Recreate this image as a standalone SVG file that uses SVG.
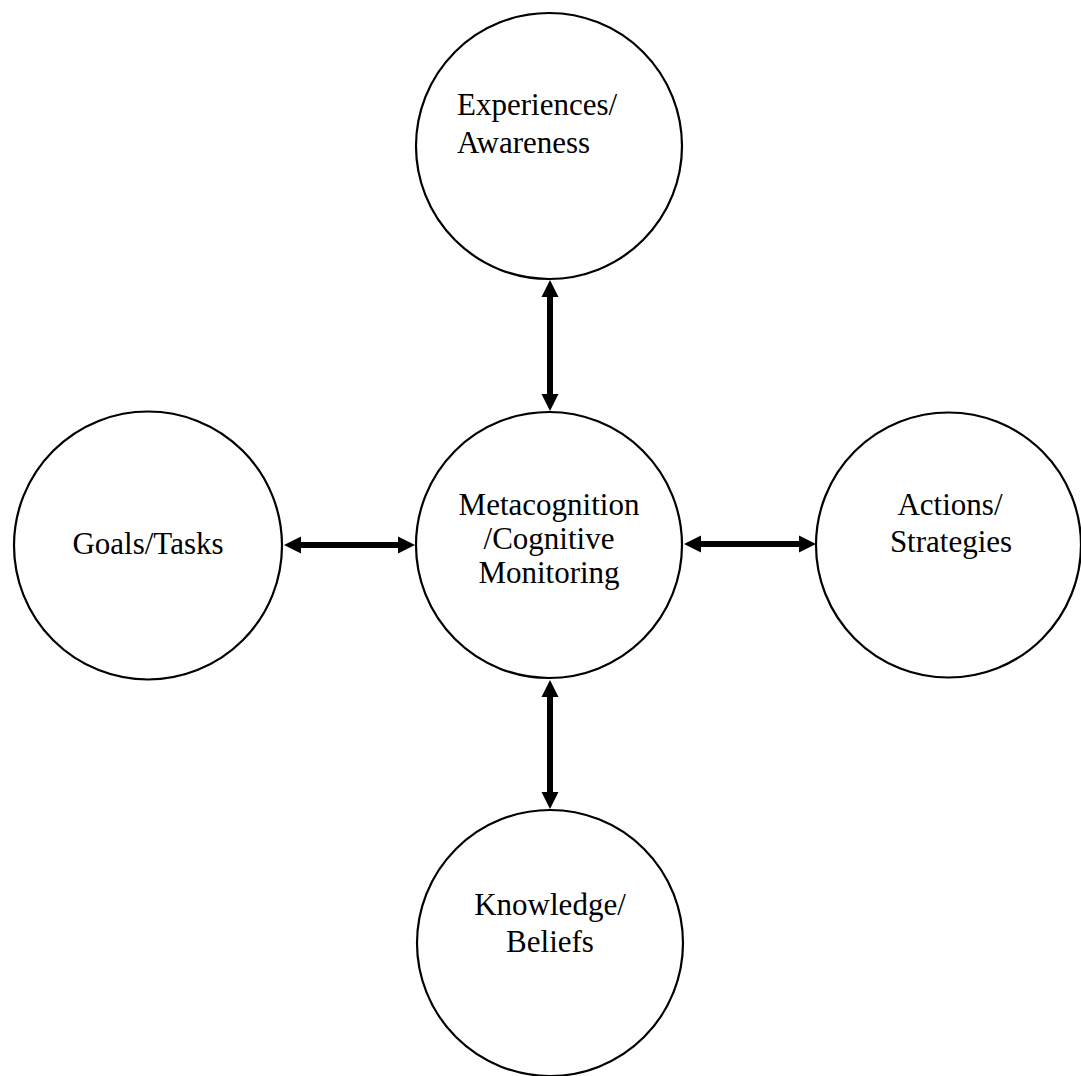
<svg xmlns="http://www.w3.org/2000/svg" width="1081" height="1076" viewBox="0 0 1081 1076">
<style>
.node circle{fill:#fff;stroke:#000;stroke-width:2.2}
.node text{font-family:"Liberation Serif","Times New Roman",serif;font-size:31px;fill:#000}
.c{text-anchor:middle}
.conn line{stroke:#000;stroke-width:6;marker-start:url(#ah);marker-end:url(#ah)}
</style>
<defs>
<marker id="ah" markerUnits="userSpaceOnUse" markerWidth="18" markerHeight="18" viewBox="0 0 18 18" refX="1" refY="9" orient="auto-start-reverse">
<path d="M0,0.5 L17,9 L0,17.5 z" fill="#000"/>
</marker>
</defs>
<rect width="1081" height="1076" fill="#fff"/>
<g id="experiences" class="node">
<circle cx="549" cy="146" r="133"/>
<text x="457" y="115">Experiences/</text>
<text x="457" y="153">Awareness</text>
</g>
<g id="metacognition" class="node">
<circle cx="549" cy="545" r="133"/>
<text class="c" x="549" y="515">Metacognition</text>
<text class="c" x="549" y="549">/Cognitive</text>
<text class="c" x="549" y="583">Monitoring</text>
</g>
<g id="goals" class="node">
<circle cx="148" cy="545.5" r="134"/>
<text class="c" x="148" y="554">Goals/Tasks</text>
</g>
<g id="actions" class="node">
<circle cx="948.5" cy="545" r="132.5"/>
<text class="c" x="950" y="515">Actions/</text>
<text class="c" x="951" y="552">Strategies</text>
</g>
<g id="knowledge" class="node">
<circle cx="550" cy="943" r="133"/>
<text class="c" x="550" y="915">Knowledge/</text>
<text class="c" x="550" y="952">Beliefs</text>
</g>
<g id="connectors" class="conn">
<line x1="550" y1="296" x2="550" y2="395"/>
<line x1="550" y1="696" x2="550" y2="793"/>
<line x1="300" y1="545" x2="399" y2="545"/>
<line x1="700" y1="544" x2="800" y2="544"/>
</g>
</svg>
